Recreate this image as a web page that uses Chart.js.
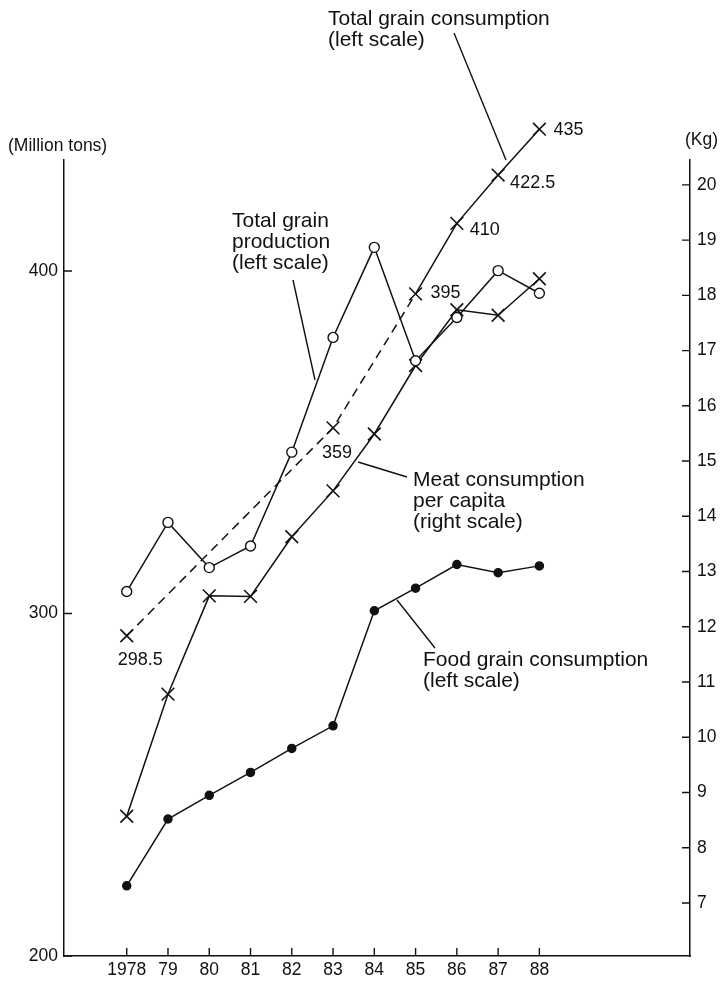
<!DOCTYPE html>
<html>
<head>
<meta charset="utf-8">
<title>Grain and meat consumption, 1978-88</title>
<script src="https://cdn.jsdelivr.net/npm/chart.js@4.4.1/dist/chart.umd.min.js"></script>
<style>
    html, body { margin: 0; padding: 0; background: #fff; }
    canvas { display: block; }
</style>
</head>
<body>
<canvas id="grainChart" width="721" height="984"></canvas>
<script>
// ---------------------------------------------------------------------------------------------
// data
var years = [1978, 1979, 1980, 1981, 1982, 1983, 1984, 1985, 1986, 1987, 1988];
var grainProduction = [306.4, 326.6, 313.4, 319.7, 347.1, 380.6, 406.9, 373.8, 386.4, 400.1, 393.5];
var grainConsumption = [293.5, null, null, null, null, 354.2, null, 393.3, 413.9, 428.0, 441.4];
var consumptionLabels = ['298.5', null, null, null, null, '359', null, '395', '410', '422.5', '435'];
var meatPerCapita = [8.57, 10.78, 12.56, 12.55, 13.63, 14.46, 15.49, 16.73, 17.74, 17.64, 18.30];
var foodGrain = [220.5, 240.0, 246.9, 253.6, 260.6, 267.2, 300.8, 307.4, 314.3, 311.9, 313.9];
var leftTicks = [200, 300, 400];
var rightTicks = [7, 8, 9, 10, 11, 12, 13, 14, 15, 16, 17, 18, 19, 20];

// ---------------------------------------------------------------------------------------------

function points(arr) {
    var out = [];
    for (var i = 0; i < years.length; i++) {
        if (arr[i] !== null) out.push({ x: years[i], y: arr[i] });
    }
    return out;
}

var FONT = '"Liberation Sans", Arial, Helvetica, sans-serif';
var INK = '#111';

// offsets of the printed consumption values from their marks
var labelOffsets = {
    1978: [-9, 29], 1983: [-11, 30], 1985: [15, 4],
    1986: [13, 12], 1987: [12, 13], 1988: [14, 6]
};

var notes = [
    { lines: ['Total grain consumption', '(left scale)'], x: 328, y: 25, from: [454, 33], to: [506, 160] },
    { lines: ['Total grain', 'production', '(left scale)'], x: 232, y: 227, from: [293, 280], to: [315, 380] },
    { lines: ['Meat consumption', 'per capita', '(right scale)'], x: 413, y: 486, from: [358, 462], to: [407, 477] },
    { lines: ['Food grain consumption', '(left scale)'], x: 423, y: 666, from: [397, 600], to: [435, 648] }
];

// the 1988 consumption mark sits above the axis tops, so let the marks use the whole canvas height
var openArea = {
    id: 'openArea',
    beforeDatasetsDraw: function (chart) { chart._savedTop = chart.chartArea.top; chart.chartArea.top = 0; },
    afterDatasetsDraw: function (chart) { chart.chartArea.top = chart._savedTop; }
};

var decorations = {
    id: 'decorations',
    afterDraw: function (chart) {
        var ctx = chart.ctx;
        var xs = chart.scales.x, yl = chart.scales.y, yr = chart.scales.y1;
        var area = chart.chartArea;
        ctx.save();
        ctx.strokeStyle = INK;
        ctx.lineWidth = 1.4;

        // inward tick marks
        ctx.beginPath();
        years.forEach(function (v) {
            var px = xs.getPixelForValue(v);
            ctx.moveTo(px, area.bottom); ctx.lineTo(px, area.bottom - 8);
        });
        leftTicks.forEach(function (v) {
            var py = yl.getPixelForValue(v);
            ctx.moveTo(area.left, py); ctx.lineTo(area.left + 8, py);
        });
        rightTicks.forEach(function (v) {
            var py = yr.getPixelForValue(v);
            ctx.moveTo(area.right, py); ctx.lineTo(area.right - 8, py);
        });
        ctx.stroke();

        // axis units
        ctx.fillStyle = INK;
        ctx.font = '17.5px ' + FONT;
        ctx.textBaseline = 'alphabetic';
        ctx.textAlign = 'left';
        ctx.fillText('(Million tons)', 8, 151);
        ctx.textAlign = 'right';
        ctx.fillText('(Kg)', 718, 145);

        // printed values of total grain consumption
        ctx.textAlign = 'left';
        ctx.font = '18px ' + FONT;
        for (var i = 0; i < years.length; i++) {
            if (!consumptionLabels[i]) continue;
            var off = labelOffsets[years[i]];
            ctx.fillText(consumptionLabels[i],
                xs.getPixelForValue(years[i]) + off[0],
                yl.getPixelForValue(grainConsumption[i]) + off[1]);
        }

        // series notes with leader lines
        ctx.font = '21px ' + FONT;
        notes.forEach(function (n) {
            n.lines.forEach(function (t, k) { ctx.fillText(t, n.x, n.y + k * 21); });
            ctx.beginPath();
            ctx.moveTo(n.from[0], n.from[1]);
            ctx.lineTo(n.to[0], n.to[1]);
            ctx.stroke();
        });
        ctx.restore();
    }
};

(function () {
    try {
        var canvas = document.getElementById('grainChart');
        if (!canvas) return;
        var ctx = canvas.getContext('2d');

        var axisBorder = { display: true, color: INK, width: 1.5 };
        var tickFont = { family: FONT, size: 17.5 };

        new Chart(ctx, {
            type: 'line',
            data: {
                datasets: [{
                    label: 'Total grain production',
                    data: points(grainProduction),
                    yAxisID: 'y',
                    borderColor: INK, borderWidth: 1.5,
                    pointStyle: 'circle', pointRadius: 5,
                    pointBackgroundColor: '#fff', pointBorderColor: INK, pointBorderWidth: 1.4,
                    clip: false
                }, {
                    label: 'Total grain consumption',
                    data: points(grainConsumption),
                    yAxisID: 'y',
                    spanGaps: true,
                    borderColor: INK, borderWidth: 1.5,
                    segment: {
                        borderDash: function (c) { return c.p0.parsed.x < 1985 ? [9, 6] : undefined; }
                    },
                    pointStyle: 'crossRot', pointRadius: 9,
                    pointBorderColor: INK, pointBorderWidth: 1.6,
                    clip: false
                }, {
                    label: 'Meat consumption per capita',
                    data: points(meatPerCapita),
                    yAxisID: 'y1',
                    borderColor: INK, borderWidth: 1.5,
                    pointStyle: 'crossRot', pointRadius: 9,
                    pointBorderColor: INK, pointBorderWidth: 1.6,
                    clip: false
                }, {
                    label: 'Food grain consumption',
                    data: points(foodGrain),
                    yAxisID: 'y',
                    borderColor: INK, borderWidth: 1.5,
                    pointStyle: 'circle', pointRadius: 4,
                    pointBackgroundColor: INK, pointBorderColor: INK,
                    clip: false
                }]
            },
            options: {
                responsive: false,
                animation: false,
                layout: { padding: { top: 160, left: 0, right: 0, bottom: 0 } },
                plugins: { legend: { display: false }, tooltip: { enabled: false } },
                scales: {
                    x: {
                        type: 'linear', min: 1976.48, max: 1991.65,
                        afterBuildTicks: function (s) { s.ticks = years.map(function (v) { return { value: v }; }); },
                        afterFit: function (s) { s.height = 28; },
                        grid: { display: false, drawTicks: false },
                        border: axisBorder,
                        ticks: {
                            color: INK, font: tickFont, padding: 4, maxRotation: 0, autoSkip: false,
                            callback: function (v) { return v === 1978 ? '1978' : String(v).slice(2); }
                        }
                    },
                    y: {
                        position: 'left', min: 200, max: 432.4,
                        afterBuildTicks: function (s) { s.ticks = leftTicks.map(function (v) { return { value: v }; }); },
                        afterFit: function (s) { s.width = 64; },
                        grid: { display: false, drawTicks: false },
                        border: axisBorder,
                        ticks: { color: INK, font: tickFont, padding: 6 }
                    },
                    y1: {
                        position: 'right', min: 6.04, max: 20.45,
                        afterBuildTicks: function (s) { s.ticks = rightTicks.map(function (v) { return { value: v }; }); },
                        afterFit: function (s) { s.width = 31; },
                        grid: { display: false, drawTicks: false },
                        border: axisBorder,
                        ticks: { color: INK, font: tickFont, padding: 7 }
                    }
                }
            },
            plugins: [openArea, decorations]
        });
    } catch (e) { console.log(e); }
})();
</script>
</body>
</html>
